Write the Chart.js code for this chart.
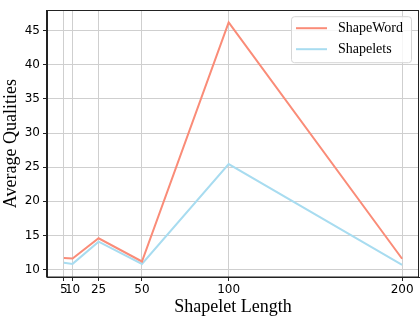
<!DOCTYPE html>
<html>
<head>
<meta charset="utf-8">
<script src="https://cdn.jsdelivr.net/npm/chart.js@4"></script>
<style>
  html, body { margin: 0; padding: 0; background: #fff; }
  #wrap { width: 420px; height: 318px; }
</style>
</head>
<body>
<div id="wrap"><canvas id="chart" width="420" height="318"></canvas></div>
<script>
// data
var lengths = [5, 10, 25, 50, 100, 200];
var shapeWord = [11.7, 11.65, 14.6, 11.2, 46.2, 11.6];
var shapelets = [11.0, 10.85, 14.1, 10.85, 25.45, 10.7];
var xTicks = [5, 10, 25, 50, 100, 200];
var yTicks = [10, 15, 20, 25, 30, 35, 40, 45];

var toPoints = function(vals) {
  return lengths.map(function(x, i) { return { x: x, y: vals[i] }; });
};

// matplotlib-like frame (all four spines)
var framePlugin = {
  id: 'frame',
  afterDatasetsDraw: function(chart) {
    var a = chart.chartArea, ctx = chart.ctx;
    ctx.save();
    ctx.strokeStyle = '#222';
    ctx.lineWidth = 1;
    ctx.strokeRect(Math.round(a.left) - 0.5, Math.round(a.top) + 0.5,
      Math.round(a.right - a.left), Math.round(a.bottom - a.top) - 0.5);
    ctx.restore();
  }
};

// legend box inside the plot, top right
var legendPlugin = {
  id: 'innerLegend',
  afterDraw: function(chart) {
    var a = chart.chartArea, ctx = chart.ctx;
    var w = 120, h = 46;
    var x = a.right - 8 - w, y = a.top + 6;
    ctx.save();
    ctx.beginPath();
    ctx.roundRect(x + 0.5, y + 0.5, w, h, 3);
    ctx.fillStyle = 'rgba(255,255,255,0.8)';
    ctx.fill();
    ctx.strokeStyle = '#d6d6d6';
    ctx.lineWidth = 1;
    ctx.stroke();
    ctx.font = '14px "Liberation Serif", "Times New Roman", serif';
    ctx.textBaseline = 'middle';
    chart.data.datasets.forEach(function(ds, i) {
      var ly = y + 12 + i * 21;
      ctx.beginPath();
      ctx.moveTo(x + 5, ly);
      ctx.lineTo(x + 36, ly);
      ctx.strokeStyle = ds.borderColor;
      ctx.lineWidth = 2;
      ctx.stroke();
      ctx.fillStyle = '#000';
      ctx.fillText(ds.label, x + 47, ly);
    });
    ctx.restore();
  }
};

new Chart(document.getElementById('chart'), {
  type: 'line',
  data: {
    datasets: [{
      label: 'ShapeWord',
      data: toPoints(shapeWord),
      borderColor: '#fa8c78',
      backgroundColor: '#fa8c78',
      borderWidth: 2,
      pointRadius: 0,
      tension: 0
    },
    {
      label: 'Shapelets',
      data: toPoints(shapelets),
      borderColor: '#a8dcf0',
      backgroundColor: '#a8dcf0',
      borderWidth: 2,
      pointRadius: 0,
      tension: 0
    }]
  },
  options: {
    responsive: false,
    animation: false,
    layout: { padding: { top: 1, right: 1, left: 0, bottom: 0 } },
    plugins: {
      legend: { display: false },
      tooltip: { enabled: false }
    },
    scales: {
      x: {
        type: 'linear',
        min: -4.75,
        max: 209.75,
        afterBuildTicks: function(scale) {
          scale.ticks = xTicks.map(function(v) { return { value: v }; });
        },
        afterFit: function(scale) { scale.height = 41; },
        ticks: {
          autoSkip: false,
          maxRotation: 0,
          padding: 2,
          color: '#000',
          font: { family: '"DejaVu Sans"', size: 12 }
        },
        grid: { color: '#cfcfcf', lineWidth: 1, tickLength: 4, tickColor: '#222' },
        border: { display: true, color: '#222' },
        title: {
          display: true,
          text: 'Shapelet Length',
          color: '#000',
          padding: { top: 0, bottom: 0 },
          font: { family: '"Liberation Serif"', size: 18 }
        }
      },
      y: {
        min: 8.93,
        max: 47.98,
        afterBuildTicks: function(scale) {
          scale.ticks = yTicks.map(function(v) { return { value: v }; });
        },
        afterFit: function(scale) { scale.width = 47; },
        ticks: {
          padding: 3,
          color: '#000',
          font: { family: '"DejaVu Sans"', size: 12 }
        },
        grid: { color: '#cfcfcf', lineWidth: 1, tickLength: 4, tickColor: '#222' },
        border: { display: true, color: '#222' },
        title: {
          display: true,
          text: 'Average Qualities',
          color: '#000',
          padding: { top: 0, bottom: 0 },
          font: { family: '"Liberation Serif"', size: 18 }
        }
      }
    }
  },
  plugins: [framePlugin, legendPlugin]
});
</script>
</body>
</html>
